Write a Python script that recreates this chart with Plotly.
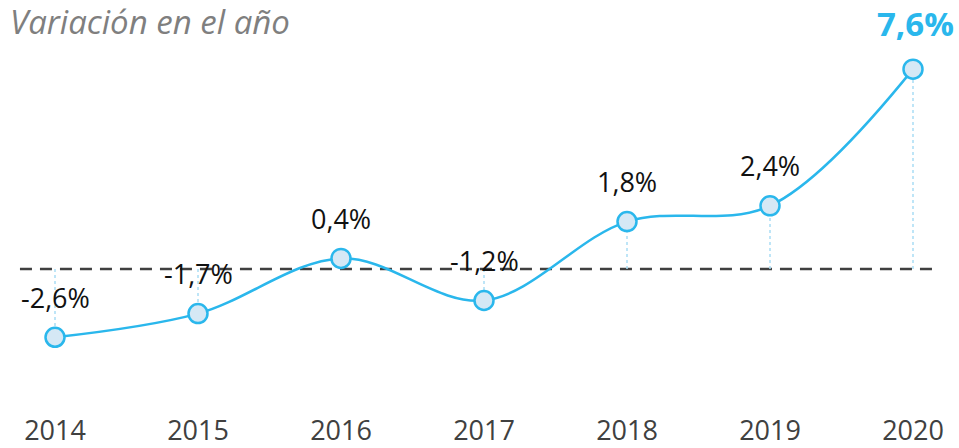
import plotly.graph_objects as go

years = ['2014', '2015', '2016', '2017', '2018', '2019', '2020']
values = [-2.6, -1.7, 0.4, -1.2, 1.8, 2.4, 7.6]
labels = ['-2,6%', '-1,7%', '0,4%', '-1,2%', '1,8%', '2,4%', '7,6%']

LINE = '#2AB7EC'
FILL = '#D5E8F5'
DOT = '#A9DDF5'

fig = go.Figure()

# dotted drops from each point to zero
for yr, v in zip(years, values):
    fig.add_trace(go.Scatter(
        x=[yr, yr], y=[0, v], mode='lines',
        line=dict(color=DOT, width=1.5, dash='dot'),
        hoverinfo='skip', showlegend=False
    ))

fig.add_trace(go.Scatter(
    x=years, y=values, mode='lines+markers',
    line=dict(color=LINE, width=2.5, shape='spline', smoothing=1.0),
    marker=dict(size=19, color=FILL, line=dict(color=LINE, width=2.5)),
    showlegend=False
))

# zero line
fig.add_shape(type='line', xref='x', yref='y', x0=-0.245, x1=6.15, y0=0, y1=0,
              line=dict(color='#404040', width=2.5, dash='12px,8px'), layer='below')

for i, (v, lab) in enumerate(zip(values, labels)):
    last = i == len(years) - 1
    fig.add_annotation(
        x=i, y=v, text=lab, showarrow=False,
        xshift=2 if last else 0,
        yshift=46 if last else 40,
        font=dict(family='Open Sans', size=33 if last else 27,
                  color=LINE if last else '#111111',
                  weight='bold' if last else 'normal')
    )

fig.add_annotation(
    xref='paper', yref='paper', x=0.008, y=1.0, xanchor='left', yanchor='top',
    yshift=3, text='<i>Variación en el año</i>', showarrow=False,
    font=dict(family='Open Sans', size=33, color='#7F7F7F')
)

fig.update_xaxes(type='category', range=[-0.3846, 6.3217], showgrid=False, zeroline=False,
                 showline=False, ticks='', ticklabelstandoff=4, automargin=False,
                 tickfont=dict(family='Open Sans', size=27, color='#404040'))
fig.update_yaxes(range=[-5.29, 10.23], visible=False, automargin=False)

fig.update_layout(
    width=959, height=448,
    margin=dict(l=0, r=0, t=0, b=40),
    paper_bgcolor='white', plot_bgcolor='white'
)

fig.write_html('out.html', config={'displayModeBar': False},
               post_script="document.body.style.margin='0';")
